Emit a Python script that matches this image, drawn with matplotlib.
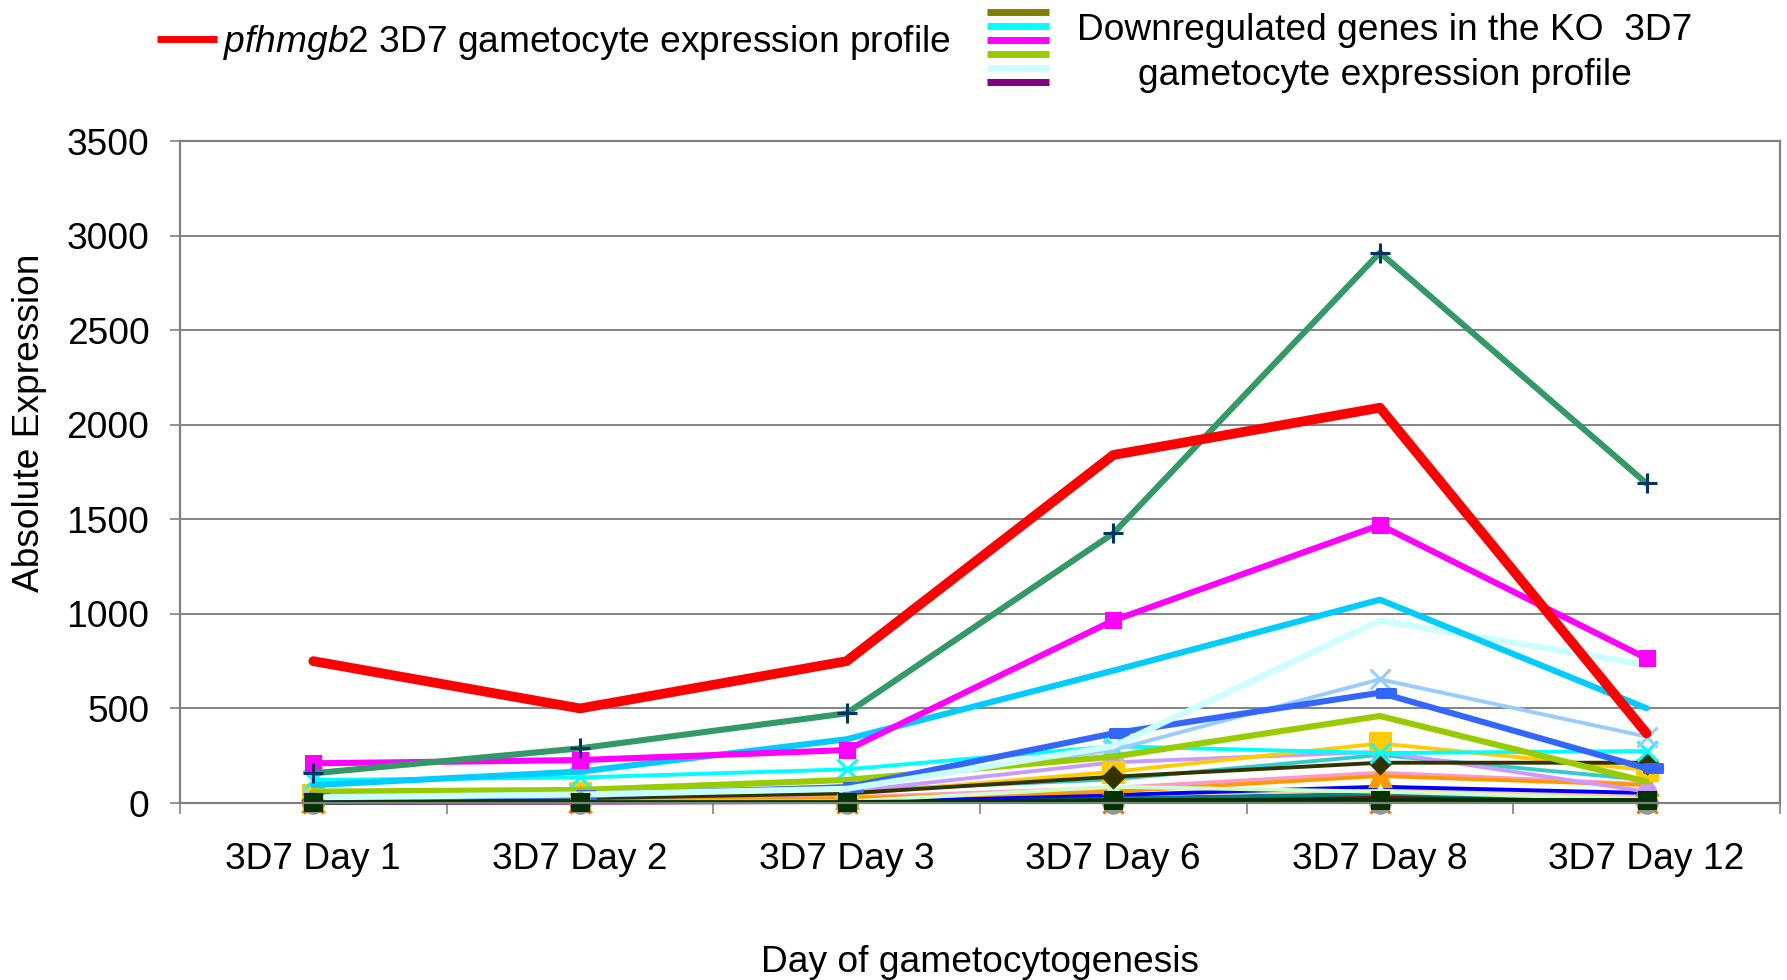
import matplotlib
matplotlib.use("Agg")
import matplotlib.pyplot as plt
import numpy as np
from matplotlib.lines import Line2D
from matplotlib.path import Path
from matplotlib.markers import MarkerStyle

plt.rcParams["font.family"] = ["Liberation Sans", "DejaVu Sans"]
plt.rcParams["mathtext.fontset"] = "custom"
plt.rcParams["mathtext.rm"] = "Liberation Sans"
plt.rcParams["mathtext.it"] = "Liberation Sans:italic"

days = ["3D7 Day 1", "3D7 Day 2", "3D7 Day 3", "3D7 Day 6", "3D7 Day 8", "3D7 Day 12"]

# pfhmgb2 profile
pfhmgb2 = [750, 500, 750, 1840, 2090, 368]

# downregulated genes (one list per gene)
g_seagreen = [157, 289, 474, 1425, 2910, 1690]
g_magenta = [210, 227, 280, 965, 1470, 765]
g_skyblue = [95, 166, 337, 700, 1075, 501]
g_lightcyan = [30, 45, 75, 300, 965, 730]
g_lightblue = [25, 35, 90, 280, 654, 351]
g_royalblue = [28, 42, 83, 368, 583, 183]
g_yellowgreen = [60, 69, 122, 245, 460, 113]
g_cyan = [122, 135, 178, 300, 264, 275]
g_gold = [40, 55, 45, 165, 315, 175]
g_lavender = [20, 25, 60, 215, 271, 60]
g_turquoise = [15, 20, 65, 125, 254, 122]
g_darkolive = [16, 25, 51, 139, 213, 213]
g_pink = [10, 12, 30, 80, 160, 100]
g_orange = [8, 10, 25, 60, 143, 95]
g_peach = [5, 8, 20, 45, 69, 34]
g_blue = [5, 8, 15, 42, 86, 53]
g_teal = [3, 5, 10, 25, 48, 25]
g_maroon = [2, 3, 6, 15, 34, 15]
g_purple = [2, 3, 5, 12, 20, 10]
g_olive = [4, 6, 10, 20, 28, 18]
g_lightgreen = [5, 6, 8, 86, 60, 20]
g_darkgreen = [4, 5, 5, 16, 16, 16]
g_gray = [0, 0, 0, 0, 0, 0]
g_orangered = [0, 0, 0, 0, 0, 0]

legend_colors = ["#808000", "#00FFFF", "#FF00FF", "#99CC00", "#CCFFFF", "#800080"]

# excel-like "dash" marker sitting right of the point
dash = MarkerStyle(Path([(-0.15, -0.22), (0.85, -0.22), (0.85, 0.22), (-0.15, 0.22), (-0.15, -0.22)],
                        [1, 2, 2, 2, 79]))

THIN, THICK = 2.8, 4.4
# (data, colour, linewidth, marker, markersize, marker colour)
series = [
    (g_olive, "#808000", THIN, None, 0, None),
    (g_maroon, "#800000", THIN, None, 0, None),
    (g_purple, "#800080", THIN, None, 0, None),
    (g_teal, "#008080", THIN, None, 0, None),
    (g_peach, "#FFCC99", THIN, None, 0, None),
    (g_blue, "#0000FF", THIN, "|", 10, "#0000CC"),
    (g_pink, "#FF99CC", THIN, None, 0, None),
    (g_orange, "#FF9900", THIN, "^", 14, "#FF9900"),
    (g_lightgreen, "#CCFFCC", THIN, "^", 9, "#CCFFCC"),
    (g_turquoise, "#33CCCC", THIN, None, 0, None),
    (g_lavender, "#CC99FF", THIN, "o", 12, "#CC99FF"),
    (g_gold, "#FFCC00", THIN, "s", 14, "#FFCC00"),
    (g_darkolive, "#333300", THIN, "D", 10, "#333300"),
    (g_cyan, "#00FFFF", THIN, "x", 15, "#00FFFF"),
    (g_lightblue, "#99CCFF", THIN, "x", 15, "#99CCFF"),
    (g_yellowgreen, "#99CC00", THICK, None, 0, None),
    (g_royalblue, "#3366FF", THICK, dash, 22, "#3366FF"),
    (g_lightcyan, "#CCFFFF", THICK, None, 0, None),
    (g_skyblue, "#00CCFF", THICK, None, 0, None),
    (g_magenta, "#FF00FF", THICK, "s", 10, "#FF00FF"),
    (g_seagreen, "#339966", THICK, "+", 15, "#003366"),
    (g_orangered, "#FF6600", 0.0, "x", 14, "#FF6600"),
    (g_gray, "#969696", 0.0, "o", 14, "#969696"),
    (g_darkgreen, "#003300", THIN, "s", 11, "#003300"),
]

fig = plt.figure(figsize=(17.87, 9.8), dpi=100)
ax = fig.add_axes([0.1007, 0.1806, 0.8953, 0.6755])
x = np.arange(len(days))

for data, col, lw, mk, ms, mc in series:
    ax.plot(x, data, color=col, lw=lw, marker=mk, ms=ms, mfc=mc, mec=mc, mew=2.2,
            solid_capstyle="round", clip_on=False)

ax.plot(x, pfhmgb2, color="#FF0000", lw=7, solid_capstyle="round", zorder=5)

FS = 26.7
ax.set_xlim(-0.5, len(days) - 0.5)
ax.set_ylim(0, 3500)
ax.set_yticks(np.arange(0, 3501, 500))
ax.set_xticks(x)
ax.set_xticklabels(days)
ax.set_xticks(np.arange(-0.5, len(days), 1), minor=True)
ax.tick_params(axis="x", which="major", length=0, pad=28, labelsize=FS)
ax.tick_params(axis="x", which="minor", length=8, width=1.2, color="#808080")
ax.tick_params(axis="y", length=7, width=1.2, color="#808080", pad=15, labelsize=FS)
ax.grid(axis="y", color="#6e6e6e", lw=1.2)
ax.set_axisbelow(True)
for s in ax.spines.values():
    s.set_color("#808080")
    s.set_linewidth(1.6)

ax.set_ylabel("Absolute Expression", fontsize=FS)
ax.yaxis.set_label_coords(-0.083, 0.574)
ax.set_xlabel("Day of gametocytogenesis", fontsize=FS)
ax.xaxis.set_label_coords(0.5, -0.215)

# left legend: pfhmgb2
h1 = Line2D([], [], color="#FF0000", lw=5, solid_capstyle="butt")
fig.legend([h1], [r"$\it{pfhmgb2}$ 3D7 gametocyte expression profile"], loc="center left",
           bbox_to_anchor=(0.088, 0.957), frameon=False, fontsize=FS, borderpad=0,
           borderaxespad=0, handlelength=1.6, handletextpad=0.17)

# right legend: colour swatches for the downregulated genes
hs = [Line2D([], [], color=c, lw=5, solid_capstyle="butt") for c in legend_colors]
fig.legend(hs, [""] * len(hs), loc="upper left", bbox_to_anchor=(0.5523, 0.994),
           frameon=False, fontsize=10.2, borderpad=0, borderaxespad=0, labelspacing=0,
           handleheight=0.7, handlelength=4.4, handletextpad=0)
fig.text(0.775, 0.946, "Downregulated genes in the KO  3D7\ngametocyte expression profile",
         ha="center", va="center", multialignment="center", fontsize=FS, linespacing=1.35)

fig.savefig("out.png", dpi=100)
